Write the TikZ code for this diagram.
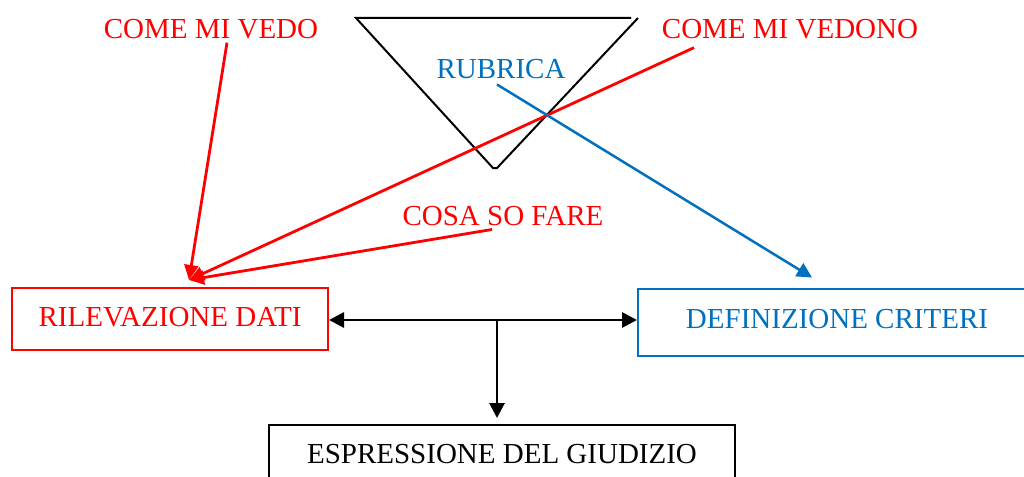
\documentclass[tikz,border=0pt]{standalone}
\usepackage{fontspec}
\setmainfont{Liberation Serif}
\usetikzlibrary{arrows.meta,calc}
\definecolor{wred}{HTML}{FF0000}
\definecolor{wblue}{HTML}{0070C0}
\begin{document}
\begin{tikzpicture}[x=1pt,y=-1pt,
  font=\fontsize{29}{34}\selectfont,
  lbl/.style={inner sep=0pt, anchor=base},
  box/.style={draw, line width=2pt, inner sep=0pt, text height=19pt},
  redarrow/.style={wred, line width=2.8pt, -{Triangle[length=15pt,width=14pt]}},
  bluearrow/.style={wblue, line width=2.5pt, -{Triangle[length=15pt,width=15pt]}},
  blackarrow/.style={black, line width=2.8pt, -{Triangle[length=15pt,width=15pt]}},
  tri/.style={black, line width=2pt}]
\useasboundingbox (0,0) rectangle (1024,476);
\clip (0,0) rectangle (1024,476);

% triangle
\draw[tri] (631,18) -- (356,18) -- (493,168) -- (497,168) -- (638,18);

% labels
\node[lbl, text=wred] (vedo) at (211,39) {COME MI VEDO};
\node[lbl, text=wred] (vedono) at (790,39) {COME MI VEDONO};
\node[lbl, text=wblue] (rubrica) at (501,79) {RUBRICA};
\node[lbl, text=wred] (cosa) at (503,225) {COSA SO FARE};

% boxes
\node[box, draw=wred, text=wred, minimum width=316pt, minimum height=62pt, text depth=5pt] (rilev) at (170,319) {RILEVAZIONE DATI};
\node[box, draw=wblue, text=wblue, minimum width=398pt, minimum height=67pt, text depth=7pt] (defi) at (837,322) {DEFINIZIONE CRITERI};
\node[box, draw=black, text=black, minimum width=466pt, minimum height=62pt, text depth=5pt] (espr) at (502,456) {ESPRESSIONE DEL GIUDIZIO};

% coordinates
\coordinate (rtip) at ($(rilev.north)+(19,-7)$);
\coordinate (j) at (497,320);

% red arrows
\draw[redarrow] ($(vedo.south)+(16,3)$) -- (rtip);
\draw[redarrow] ($(vedono.south)+(-96,8)$) -- (rtip);
\draw[redarrow] ($(cosa.south)+(-11,4)$) -- (rtip);

% blue arrow
\draw[bluearrow] ($(rubrica.south)+(-4,5)$) -- ($(defi.north)+(-25,-10)$);

% black arrows
\draw[blackarrow] (j) -- (j -| rilev.east);
\draw[blackarrow] (j) -- (j -| defi.west);
\draw[blackarrow, shorten >=6pt] (j) -- (j |- espr.north);
\end{tikzpicture}
\end{document}
